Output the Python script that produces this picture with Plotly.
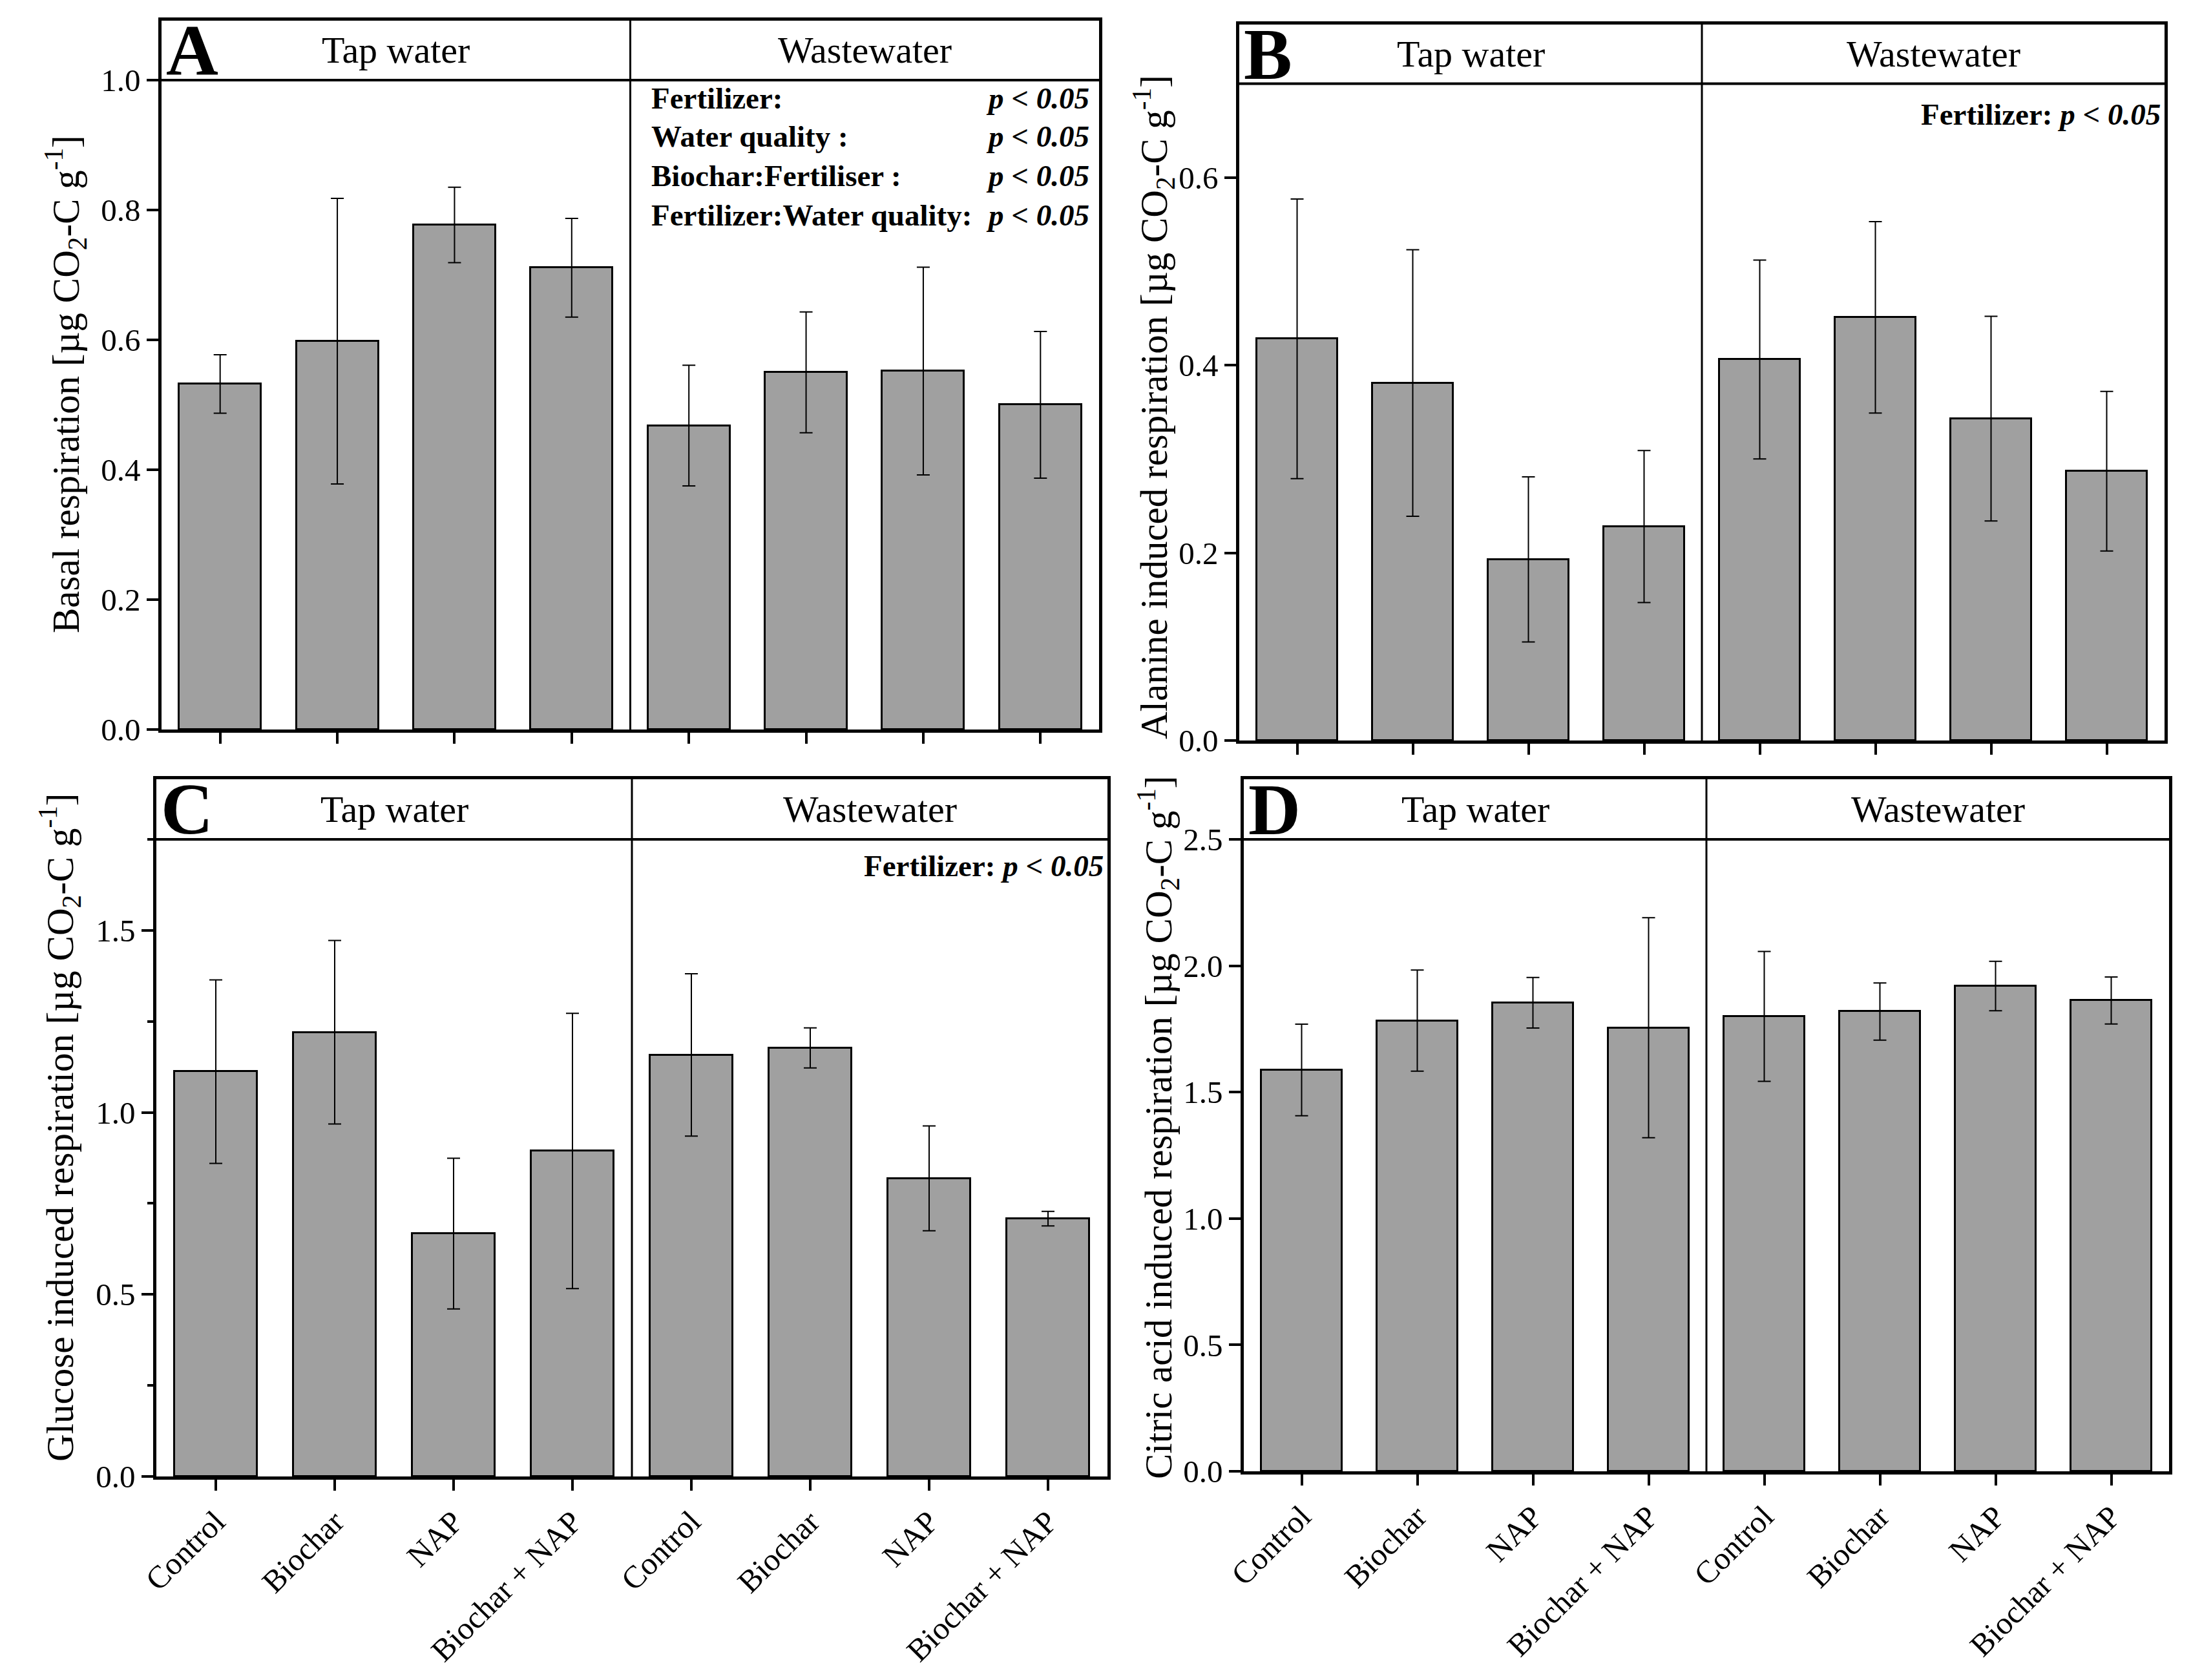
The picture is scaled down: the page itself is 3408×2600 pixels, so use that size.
import plotly.graph_objects as go

# ---------------- data ----------------
categories = ["Control", "Biochar", "NAP", "Biochar + NAP"]
groups = ["Tap water", "Wastewater"]
x_labels = categories + categories

basal_mean = [0.532, 0.598, 0.777, 0.711, 0.468, 0.550, 0.552, 0.500]
basal_err = [0.045, 0.220, 0.058, 0.076, 0.093, 0.093, 0.160, 0.113]

alanine_mean = [0.428, 0.381, 0.193, 0.228, 0.406, 0.451, 0.343, 0.287]
alanine_err = [0.149, 0.142, 0.088, 0.081, 0.106, 0.102, 0.109, 0.085]

glucose_mean = [1.112, 1.220, 0.667, 0.894, 1.158, 1.177, 0.819, 0.708]
glucose_err = [0.252, 0.252, 0.207, 0.378, 0.223, 0.055, 0.144, 0.020]

citric_mean = [1.588, 1.783, 1.854, 1.755, 1.800, 1.819, 1.920, 1.863]
citric_err = [0.181, 0.200, 0.100, 0.435, 0.257, 0.113, 0.098, 0.093]

ticks_A = [0.0, 0.2, 0.4, 0.6, 0.8, 1.0]
ticks_B = [0.0, 0.2, 0.4, 0.6]
ticks_C = [0.0, 0.5, 1.0, 1.5]
minor_C = [0.25, 0.75, 1.25, 1.75]
ticks_D = [0.0, 0.5, 1.0, 1.5, 2.0, 2.5]

stats_A = [("Fertilizer:", "p < 0.05"), ("Water quality :", "p < 0.05"),
           ("Biochar:Fertiliser :", "p < 0.05"), ("Fertilizer:Water quality:", "p < 0.05")]
stats_single = "Fertilizer: "

# ---------------- layout helpers ----------------
W, H = 3408, 2600
FONT = "Liberation Serif"


def px(x):
    return x / W


def py(y):
    return 1 - y / H


positions = list(range(1, len(x_labels) + 1))
unit = " [µg CO<sub>2</sub>-C g<sup>-1</sup>]"

panels = [
    dict(letter="A", mean=basal_mean, err=basal_err, title="Basal respiration" + unit,
         ticks=ticks_A, minor=None, base=1.0, top=1.0915,
         box=(250, 1701, 32, 1129), title_pos=(102, 595), xlabels=False),
    dict(letter="B", mean=alanine_mean, err=alanine_err, title="Alanine induced respiration" + unit,
         ticks=ticks_B, minor=None, base=0.7, top=0.763,
         box=(1918, 3350, 38, 1146), title_pos=(1785, 630), xlabels=False),
    dict(letter="C", mean=glucose_mean, err=glucose_err, title="Glucose induced respiration" + unit,
         ticks=ticks_C, minor=minor_C, base=1.75, top=1.915,
         box=(242, 1714, 1206, 2285), title_pos=(93, 1745), xlabels=True),
    dict(letter="D", mean=citric_mean, err=citric_err, title="Citric acid induced respiration" + unit,
         ticks=ticks_D, minor=None, base=2.5, top=2.738,
         box=(1925, 3357, 1206, 2277), title_pos=(1793, 1745), xlabels=True),
]

fig = go.Figure()
layout = dict(
    template="none",
    width=W, height=H, margin=dict(l=0, r=0, t=0, b=0, autoexpand=False),
    paper_bgcolor="white", plot_bgcolor="white",
    font=dict(family=FONT, color="black", size=49),
    showlegend=False, bargap=0,
)
shapes = []
annotations = []

for i, p in enumerate(panels):
    n = "" if i == 0 else str(i + 1)
    xa, ya = "x" + n, "y" + n
    x0, x1, y0, y1 = p["box"]

    fig.add_trace(go.Bar(
        x=positions, y=p["mean"], width=0.7,
        marker=dict(color="#a0a0a0", line=dict(color="black", width=3)),
        error_y=dict(type="data", array=p["err"], color="black", thickness=2, width=10),
        xaxis=xa, yaxis=ya, showlegend=False, hoverinfo="skip",
    ))

    layout["xaxis" + n] = dict(
        domain=[px(x0), px(x1)], anchor=ya, range=[0.5, 8.5],
        tickmode="array", tickvals=positions, ticktext=x_labels,
        showticklabels=p["xlabels"],
        tickangle=-45, tickfont=dict(family=FONT, size=49),
        ticks="outside", ticklen=17, tickwidth=4, tickcolor="black",
        showline=True, linewidth=4.5, linecolor="black", mirror=True,
        showgrid=False, zeroline=False, automargin=False,
    )
    yax = dict(
        domain=[py(y1), py(y0)], anchor=xa, range=[0, p["top"]],
        tickmode="array", tickvals=p["ticks"], tickformat=".1f",
        tickfont=dict(family=FONT, size=49),
        ticks="outside", ticklen=18, tickwidth=4, tickcolor="black",
        showline=True, linewidth=4.5, linecolor="black", mirror=True,
        showgrid=False, zeroline=False, automargin=False,
    )
    if p["minor"]:
        yax["minor"] = dict(tickmode="array", tickvals=p["minor"], ticks="outside",
                            ticklen=9, tickwidth=4, tickcolor="black", showgrid=False)
    layout["yaxis" + n] = yax

    # header line and group divider
    shapes.append(dict(type="line", xref=xa + " domain", yref=ya, x0=0, x1=1,
                       y0=p["base"], y1=p["base"], line=dict(color="black", width=4)))
    shapes.append(dict(type="line", xref=xa, yref=ya, x0=4.5, x1=4.5,
                       y0=0, y1=p["top"], line=dict(color="black", width=3)))

    hmid = (p["base"] + p["top"]) / 2
    annotations.append(dict(text=groups[0], x=2.5, y=hmid, xref=xa, yref=ya,
                            showarrow=False, xanchor="center", yanchor="middle",
                            font=dict(family=FONT, size=58)))
    annotations.append(dict(text=groups[1], x=6.5, y=hmid, xref=xa, yref=ya,
                            showarrow=False, xanchor="center", yanchor="middle",
                            font=dict(family=FONT, size=58)))
    annotations.append(dict(text="<b>" + p["letter"] + "</b>", x=px(x0 + 5), y=hmid,
                            xref="paper", yref=ya, showarrow=False,
                            xanchor="left", yanchor="middle",
                            font=dict(family=FONT, size=112)))
    tx, ty = p["title_pos"]
    annotations.append(dict(text=p["title"], x=px(tx), y=py(ty), xref="paper", yref="paper",
                            showarrow=False, textangle=-90, xanchor="center", yanchor="middle",
                            font=dict(family=FONT, size=59)))

# statistics text
row_y = [152, 211, 272, 333]
for (lab, pv), ry in zip(stats_A, row_y):
    annotations.append(dict(text="<b>" + lab + "</b>", x=px(1006), y=py(ry), xref="paper",
                            yref="paper", showarrow=False, xanchor="left", yanchor="middle",
                            font=dict(family=FONT, size=47)))
    annotations.append(dict(text="<b><i>" + pv + "</i></b>", x=px(1688), y=py(ry), xref="paper",
                            yref="paper", showarrow=False, xanchor="right", yanchor="middle",
                            font=dict(family=FONT, size=47)))
for rx, ry in [(3346, 177), (1710, 1340)]:
    annotations.append(dict(text="<b>" + stats_single + "<i>" + stats_A[0][1] + "</i></b>",
                            x=px(rx), y=py(ry), xref="paper", yref="paper", showarrow=False,
                            xanchor="right", yanchor="middle",
                            font=dict(family=FONT, size=47)))

layout["shapes"] = shapes
layout["annotations"] = annotations
fig.update_layout(**layout)

fig.write_html("out.html", config={"displayModeBar": False},
               post_script="document.body.style.margin='0';")
